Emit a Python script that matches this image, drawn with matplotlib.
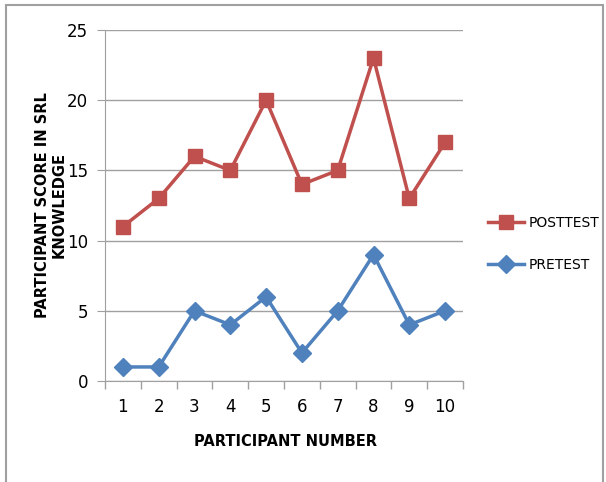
import matplotlib.pyplot as plt
from matplotlib.patches import Rectangle

participants = [1, 2, 3, 4, 5, 6, 7, 8, 9, 10]
posttest = [11, 13, 16, 15, 20, 14, 15, 23, 13, 17]
pretest = [1, 1, 5, 4, 6, 2, 5, 9, 4, 5]
y_ticks = [0, 5, 10, 15, 20, 25]

plt.rcParams['font.family'] = ['Liberation Sans Narrow', 'DejaVu Sans']

fig = plt.figure(figsize=(6.06, 4.82), dpi=100)
# outer chart border
fig.patches.append(Rectangle((6 / 606, -0.01), (603 - 6) / 606, 1 - 5 / 482 + 0.01,
                             transform=fig.transFigure, fill=False,
                             edgecolor='#a0a0a0', linewidth=1.5))

ax = fig.add_axes([105 / 606, 1 - 381 / 482, (463 - 105) / 606, (381 - 30) / 482])

ax.plot(participants, posttest, color='#C0504D', linewidth=2.5, marker='s',
        markersize=10, label='POSTTEST')
ax.plot(participants, pretest, color='#4F81BD', linewidth=2.5, marker='D',
        markersize=9, label='PRETEST')

ax.set_xlim(0.5, 10.5)
ax.set_ylim(0, 25)
ax.set_yticks(y_ticks)
ax.set_xticks(participants)
ax.set_xticks([i + 0.5 for i in range(0, 11)], minor=True)
ax.tick_params(axis='x', which='major', length=0, labelsize=12, pad=12)
ax.tick_params(axis='x', which='minor', length=6, color='#a0a0a0', width=1)
ax.tick_params(axis='y', length=6, color='#a0a0a0', labelsize=12, pad=6)
ax.grid(axis='y', color='#a0a0a0', linewidth=1)
ax.set_axisbelow(True)
for s in ['top', 'right']:
    ax.spines[s].set_visible(False)
for s in ['left', 'bottom']:
    ax.spines[s].set_color('#a0a0a0')

fig.text(285 / 606, 1 - 441 / 482, 'PARTICIPANT NUMBER', ha='center', va='center',
         fontsize=10.5, fontweight='bold')
fig.text(51 / 606, 1 - 205 / 482, 'PARTICIPANT SCORE IN SRL\nKNOWLEDGE', ha='center',
         va='center', rotation=90, fontsize=10.5, fontweight='bold', linespacing=1.1)

ax.legend(loc='center left', bbox_to_anchor=(1.07, 0.39), frameon=False,
          fontsize=10, handlelength=2.6, labelspacing=2.0, handletextpad=0.3,
          borderaxespad=0, borderpad=0)

fig.savefig('out.png', dpi=100)
